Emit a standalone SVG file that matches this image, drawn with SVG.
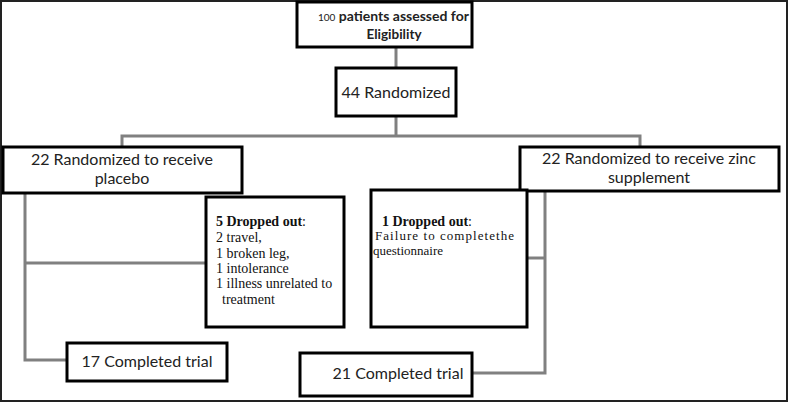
<svg xmlns="http://www.w3.org/2000/svg" width="789" height="403" viewBox="0 0 789 403">
<style>
.box{fill:#fff;stroke:#000;stroke-width:3}
.conn{fill:none;stroke:#808080;stroke-width:3}
.t{font-family:Lato,"Open Sans","Liberation Sans",sans-serif;font-size:16px;fill:#222}
.s{font-family:"Liberation Serif","DejaVu Serif",serif;font-size:14px;fill:#111}
.b{font-weight:bold}
.t14{font-size:14px}
.t13{font-size:13.5px}
.s13{font-size:13px}
</style>
<rect x="1" y="1" width="786" height="400" fill="#fff" stroke="#222" stroke-width="2"/>
<g id="connectors">
<line class="conn" x1="396" y1="47" x2="396" y2="68"/>
<polyline class="conn" points="122,147 122,136 640,136 640,147"/>
<line class="conn" x1="396" y1="116" x2="396" y2="136"/>
<polyline class="conn" points="25,193 25,360 67,360"/>
<line class="conn" x1="25" y1="263" x2="206" y2="263"/>
<polyline class="conn" points="545,191 545,373 472,373"/>
<line class="conn" x1="527" y1="258" x2="545" y2="258"/>
</g>
<g id="n-eligibility">
<rect class="box" x="297" y="2" width="175" height="45"/>
<text class="t t14" x="318" y="21"><tspan style="font-size:10px">100</tspan><tspan class="b"> patients assessed for</tspan></text>
<text class="t t13 b" x="394" y="39" text-anchor="middle">Eligibility</text>
</g>
<g id="n-randomized">
<rect class="box" x="336" y="68" width="120" height="48"/>
<text class="t" x="396" y="98" text-anchor="middle">44 Randomized</text>
</g>
<g id="n-placebo">
<rect class="box" x="3" y="147" width="239" height="46"/>
<text class="t" x="122" y="165" text-anchor="middle">22 Randomized to receive</text>
<text class="t" x="122" y="184" text-anchor="middle">placebo</text>
</g>
<g id="n-zinc">
<rect class="box" x="520" y="147" width="259" height="44"/>
<text class="t" x="649" y="164" text-anchor="middle">22 Randomized to receive zinc</text>
<text class="t" x="649" y="183" text-anchor="middle">supplement</text>
</g>
<g id="n-dropped5">
<rect class="box" x="206" y="197" width="138" height="130"/>
<text class="s b" x="216" y="226">5 Dropped out<tspan font-weight="normal">:</tspan></text>
<text class="s" x="216" y="242">2 travel,</text>
<text class="s" x="216" y="258">1 broken leg,</text>
<text class="s" x="216" y="273">1 intolerance</text>
<text class="s" x="216" y="288">1 illness unrelated to</text>
<text class="s" x="222" y="304">treatment</text>
</g>
<g id="n-dropped1">
<rect class="box" x="371" y="190" width="156" height="137"/>
<text class="s b" x="382" y="226">1 Dropped out<tspan font-weight="normal">:</tspan></text>
<text class="s s13" x="375" y="240" textLength="139" lengthAdjust="spacing">Failure to completethe</text>
<text class="s s13" x="373" y="255">questionnaire</text>
</g>
<g id="n-completed17">
<rect class="box" x="67" y="343" width="160" height="38"/>
<text class="t" x="147" y="367" text-anchor="middle">17 Completed trial</text>
</g>
<g id="n-completed21">
<rect class="box" x="300" y="353" width="172" height="43"/>
<text class="t" x="398" y="379" text-anchor="middle">21 Completed trial</text>
</g>
</svg>
